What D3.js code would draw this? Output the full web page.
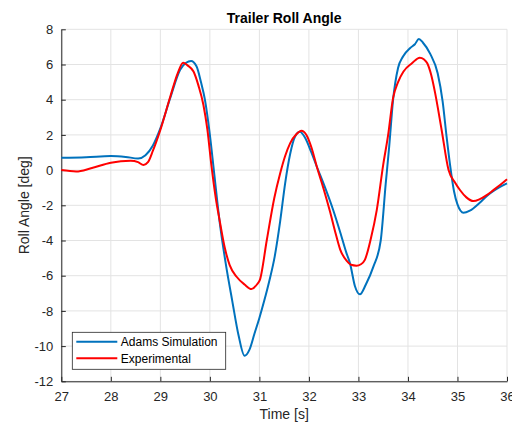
<!DOCTYPE html>
<html lang="en">
  <head>
    <meta charset="utf-8">
    <title>Trailer Roll Angle</title>
    <style>
      body { margin: 0; background: #fff; }
      svg { font-family: "Liberation Sans", Arial, Helvetica, sans-serif; }
    </style>
  </head>
  <body>
    <svg width="512" height="425"></svg>
    <script src="https://d3js.org/d3.v7.min.js"></script>
    <script>

      // Adams simulation trace (time [s], roll [deg])
      var adamsTime = [27.0, 27.5, 28.0, 28.3, 28.55, 28.7, 28.85, 29.0, 29.2, 29.4, 29.52, 29.62, 29.73, 29.82, 29.9, 30.0, 30.08, 30.2, 30.32, 30.45, 30.58, 30.7, 30.8, 30.9, 31.0, 31.1, 31.2, 31.31, 31.42, 31.52, 31.62, 31.72, 31.82, 31.92, 32.05, 32.16, 32.3, 32.49, 32.65, 32.76, 32.83, 32.93, 33.03, 33.15, 33.3, 33.45, 33.55, 33.62, 33.7, 33.8, 33.9, 34.05, 34.14, 34.22, 34.3, 34.45, 34.6, 34.7, 34.78, 34.85, 34.93, 35.0, 35.12, 35.25, 35.45, 35.6, 35.72, 35.86, 36.0];
      var adamsRoll = [0.70, 0.73, 0.80, 0.75, 0.66, 0.85, 1.4, 2.37, 4.1, 5.7, 6.1, 6.2, 5.9, 5.0, 4.0, 2.0, 0.0, -3.0, -5.3, -7.4, -9.4, -10.55, -10.2, -9.3, -8.4, -7.4, -6.3, -4.9, -2.9, -0.75, 0.9, 1.9, 2.18, 1.85, 1.0, 0.19, -0.8, -2.27, -3.7, -4.73, -5.3, -6.6, -7.06, -6.5, -5.5, -4.0, -0.8, 1.3, 4.0, 5.8, 6.45, 6.95, 7.15, 7.45, 7.25, 6.6, 5.5, 3.9, 1.9, 0.3, -1.2, -1.95, -2.42, -2.3, -1.85, -1.45, -1.2, -0.95, -0.75];

      // Experimental trace
      var expTime = [27.0, 27.3, 27.6, 28.0, 28.4, 28.55, 28.66, 28.75, 28.85, 29.0, 29.2, 29.35, 29.46, 29.55, 29.67, 29.77, 29.87, 29.95, 30.03, 30.12, 30.2, 30.3, 30.4, 30.54, 30.7, 30.84, 30.95, 31.01, 31.15, 31.3, 31.42, 31.52, 31.62, 31.75, 31.85, 31.95, 32.05, 32.16, 32.3, 32.43, 32.53, 32.63, 32.76, 32.85, 32.96, 33.05, 33.13, 33.25, 33.37, 33.5, 33.6, 33.7, 33.8, 33.91, 34.08, 34.24, 34.32, 34.39, 34.47, 34.55, 34.68, 34.82, 34.95, 35.05, 35.18, 35.32, 35.45, 35.59, 35.72, 35.86, 36.0];
      var expRoll = [0.0, -0.08, 0.1, 0.42, 0.53, 0.45, 0.29, 0.45, 1.1, 2.28, 4.17, 5.5, 6.1, 5.95, 5.6, 4.8, 3.7, 2.3, 0.3, -1.6, -2.9, -4.4, -5.4, -6.06, -6.5, -6.76, -6.5, -6.24, -3.97, -1.6, -0.18, 0.8, 1.52, 2.05, 2.24, 2.0, 1.3, 0.19, -1.1, -2.4, -3.5, -4.5, -5.15, -5.38, -5.43, -5.35, -5.1, -3.9, -2.27, 0.3, 2.0, 4.1, 5.0, 5.6, 6.07, 6.39, 6.3, 6.07, 5.4, 4.36, 2.28, 0.0, -0.7, -1.13, -1.55, -1.76, -1.65, -1.42, -1.15, -0.85, -0.52];

      var xTicks = [27, 28, 29, 30, 31, 32, 33, 34, 35, 36];
      var yTicks = [-12, -10, -8, -6, -4, -2, 0, 2, 4, 6, 8];
      var seriesNames = ["Adams Simulation", "Experimental"];
      var seriesColors = ["#0072BD", "#FF0000"];

      var svg = d3.select("svg"),
          margin = {top: 29.3, right: 5, bottom: 43.7, left: 61.3},
          width = 512 - margin.left - margin.right,
          height = 425 - margin.top - margin.bottom;

      var x = d3.scaleLinear().domain([27, 36]).range([0, width]);
      var y = d3.scaleLinear().domain([-12, 8]).range([height, 0]);

      var g = svg.append("g")
          .attr("transform", "translate(" + margin.left + "," + margin.top + ")");

      // grid
      g.append("g")
          .selectAll("line")
          .data(xTicks)
          .enter().append("line")
            .attr("x1", function(d) { return x(d); })
            .attr("x2", function(d) { return x(d); })
            .attr("y1", 0)
            .attr("y2", height)
            .attr("stroke", "#e3e3e3");
      g.append("g")
          .selectAll("line")
          .data(yTicks)
          .enter().append("line")
            .attr("y1", function(d) { return y(d); })
            .attr("y2", function(d) { return y(d); })
            .attr("x1", 0)
            .attr("x2", width)
            .attr("stroke", "#e3e3e3");

      // axes (plain hyphen for negatives, like the original)
      var fmt = function(d) { return String(d); };
      var xAxis = g.append("g")
          .attr("transform", "translate(0," + height + ")")
          .call(d3.axisBottom(x).tickValues(xTicks).tickSizeInner(-4.5).tickSizeOuter(0).tickPadding(10).tickFormat(fmt));
      var yAxis = g.append("g")
          .call(d3.axisLeft(y).tickValues(yTicks).tickSizeInner(-4.5).tickSizeOuter(0).tickPadding(8).tickFormat(fmt));

      [xAxis, yAxis].forEach(function(ax) {
        ax.select(".domain").attr("stroke", "#262626");
        ax.selectAll(".tick line").attr("stroke", "#262626");
        ax.selectAll(".tick text")
            .attr("fill", "#262626")
            .style("font-size", "13px")
            .style("font-family", "'Liberation Sans', Arial, sans-serif");
      });

      var line = d3.line()
          .x(function(d) { return x(d[0]); })
          .y(function(d) { return y(d[1]); })
          .curve(d3.curveMonotoneX);

      var series = [
        d3.zip(adamsTime, adamsRoll),
        d3.zip(expTime, expRoll)
      ];

      g.selectAll(".trace")
          .data(series)
          .enter().append("path")
            .attr("class", "trace")
            .attr("fill", "none")
            .attr("stroke", function(d, i) { return seriesColors[i]; })
            .attr("stroke-width", 2)
            .attr("stroke-linejoin", "round")
            .attr("d", line);

      // title and labels
      svg.append("text")
          .attr("x", margin.left + width / 2)
          .attr("y", 23)
          .attr("text-anchor", "middle")
          .style("font-size", "14px")
          .style("font-weight", "bold")
          .attr("fill", "#000")
          .text("Trailer Roll Angle");

      svg.append("text")
          .attr("x", margin.left + width / 2)
          .attr("y", 419)
          .attr("text-anchor", "middle")
          .style("font-size", "14px")
          .attr("fill", "#262626")
          .text("Time [s]");

      svg.append("text")
          .attr("transform", "translate(29," + (margin.top + height / 2) + ") rotate(-90)")
          .attr("text-anchor", "middle")
          .style("font-size", "14px")
          .attr("fill", "#262626")
          .text("Roll Angle [deg]");

      // legend
      var legend = svg.append("g").attr("transform", "translate(72.3,332.3)");
      legend.append("rect")
          .attr("width", 153.4)
          .attr("height", 37)
          .attr("fill", "#fff")
          .attr("stroke", "#262626")
          .attr("stroke-width", 0.8);

      var item = legend.selectAll(".item")
          .data(seriesNames)
          .enter().append("g")
            .attr("class", "item")
            .attr("transform", function(d, i) { return "translate(0," + (9.4 + i * 16.6) + ")"; });
      item.append("line")
          .attr("x1", 4)
          .attr("x2", 45)
          .attr("stroke", function(d, i) { return seriesColors[i]; })
          .attr("stroke-width", 2);
      item.append("text")
          .attr("x", 48.5)
          .attr("dy", "0.35em")
          .style("font-size", "12px")
          .attr("fill", "#000")
          .text(function(d) { return d; });

    </script>
  </body>
</html>
